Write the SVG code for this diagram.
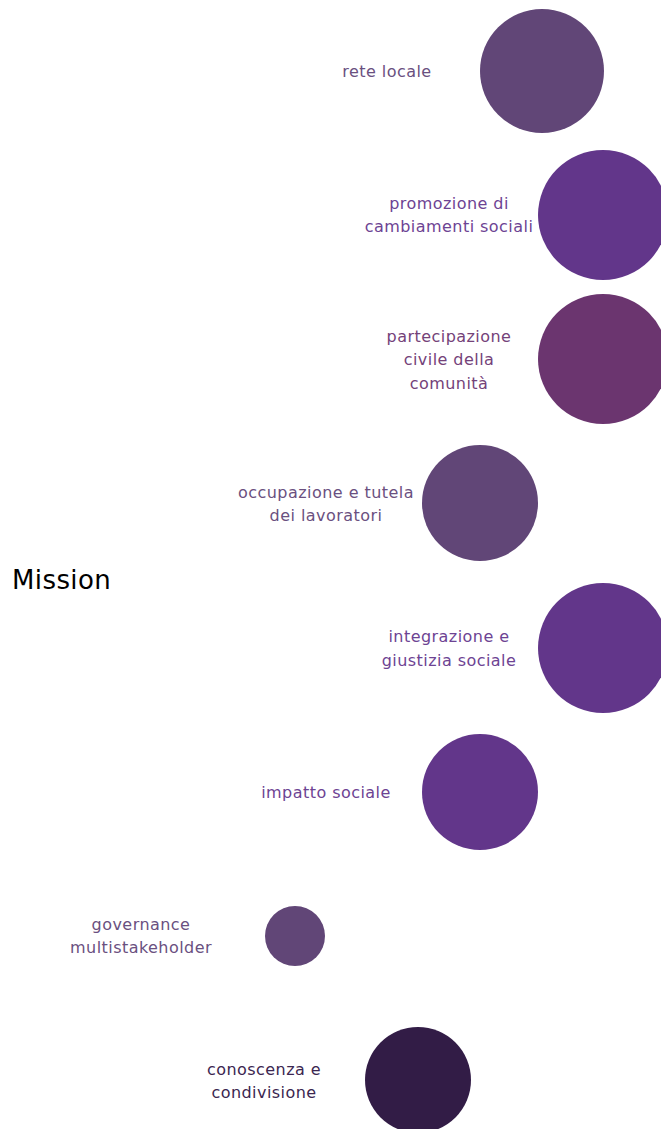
<svg xmlns="http://www.w3.org/2000/svg" width="661" height="1129" viewBox="0 0 661 1129">
<style>
text{font-family:"DejaVu Sans",sans-serif;font-size:16px;letter-spacing:0.45px;text-anchor:middle}
.a{fill:#614677}.b{fill:#62368A}.c{fill:#6B356F}.d{fill:#321C46}
.ta{fill:#6a5080}.tb{fill:#6d4393}.tc{fill:#744279}.td{fill:#3b2650}
</style>
<rect width="661" height="1129" fill="#fff"/>
<text x="12" y="589" style="font-size:26px;letter-spacing:0.4px;text-anchor:start;fill:#000">Mission</text>
<g id="connectors"/>
<g id="n1"><circle class="a" cx="542" cy="71" r="62"/><text class="ta" x="387" y="77">rete locale</text></g>
<g id="n2"><circle class="b" cx="603" cy="215" r="65"/><text class="tb" x="449" y="209">promozione di</text><text class="tb" x="449" y="232">cambiamenti sociali</text></g>
<g id="n3"><circle class="c" cx="603" cy="359" r="65"/><text class="tc" x="449" y="342">partecipazione</text><text class="tc" x="449" y="365">civile della</text><text class="tc" x="449" y="389">comunità</text></g>
<g id="n4"><circle class="a" cx="480" cy="503" r="58"/><text class="ta" x="326" y="498">occupazione e tutela</text><text class="ta" x="326" y="521">dei lavoratori</text></g>
<g id="n5"><circle class="b" cx="603" cy="648" r="65"/><text class="tb" x="449" y="642">integrazione e</text><text class="tb" x="449" y="666">giustizia sociale</text></g>
<g id="n6"><circle class="b" cx="480" cy="792" r="58"/><text class="tb" x="326" y="798">impatto sociale</text></g>
<g id="n7"><circle class="a" cx="295" cy="936" r="30"/><text class="ta" x="141" y="930">governance</text><text class="ta" x="141" y="953">multistakeholder</text></g>
<g id="n8"><circle class="d" cx="418" cy="1080" r="53"/><text class="td" x="264" y="1075">conoscenza e</text><text class="td" x="264" y="1098">condivisione</text></g>
</svg>
